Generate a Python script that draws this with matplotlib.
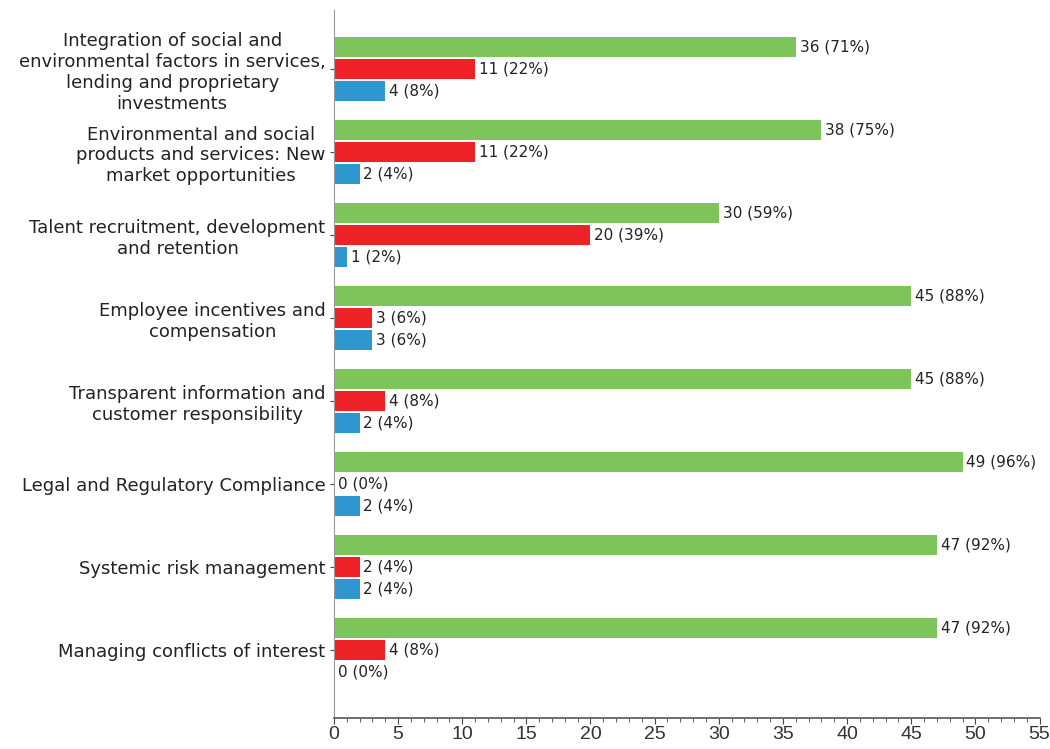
import matplotlib
matplotlib.use("Agg")
import matplotlib.pyplot as plt
from matplotlib.ticker import MultipleLocator
import numpy as np

plt.rcParams["font.family"] = ["DejaVu Sans"]

categories = [
    "Integration of social and\nenvironmental factors in services,\nlending and proprietary\ninvestments",
    "Environmental and social\nproducts and services: New\nmarket opportunities",
    "Talent recruitment, development\nand retention",
    "Employee incentives and\ncompensation",
    "Transparent information and\ncustomer responsibility",
    "Legal and Regulatory Compliance",
    "Systemic risk management",
    "Managing conflicts of interest",
]
green_vals = [36, 38, 30, 45, 45, 49, 47, 47]
red_vals = [11, 11, 20, 3, 4, 0, 2, 4]
blue_vals = [4, 2, 1, 3, 2, 2, 2, 0]
green_pct = [71, 75, 59, 88, 88, 96, 92, 92]
red_pct = [22, 22, 39, 6, 8, 0, 4, 8]
blue_pct = [8, 4, 2, 6, 4, 4, 4, 0]

colors = ["#7DC45A", "#EE2127", "#2E97CF"]

fig = plt.figure(figsize=(10.5, 7.49), dpi=100)
ax = fig.add_axes([0.318, 0.0414, 0.672, 0.9452])

y = np.arange(len(categories))
off = 0.265
h = 0.245
series = [(green_vals, green_pct, -off), (red_vals, red_pct, 0), (blue_vals, blue_pct, off)]
for (vals, pcts, o), c in zip(series, colors):
    ax.barh(y + o, vals, height=h, color=c, edgecolor="none")
    for yi, v, p in zip(y, vals, pcts):
        ax.text(v + 0.3, yi + o, f"{v} ({p}%)", va="center", ha="left",
                fontsize=11, color="#222222")

ax.set_xlim(0, 55)
ax.set_ylim(7.82, -0.71)
ax.set_yticks(y)
ax.set_yticklabels(categories, fontsize=13, color="#222222", multialignment="center")
ax.tick_params(axis="y", length=3, width=0.8, color="#444444", pad=3)
ax.xaxis.set_major_locator(MultipleLocator(5))
ax.xaxis.set_minor_locator(MultipleLocator(1))
ax.tick_params(axis="x", which="major", length=4, color="#444444", labelsize=14,
               labelcolor="#333333", pad=2, labelfontfamily="Liberation Sans")
ax.tick_params(axis="x", which="minor", length=3, color="#444444")
for s in ["top", "right"]:
    ax.spines[s].set_visible(False)
ax.spines["left"].set_color("#999999")
ax.spines["bottom"].set_color("#555555")
ax.spines["bottom"].set_linewidth(1.2)

fig.savefig("out.png", dpi=100)
